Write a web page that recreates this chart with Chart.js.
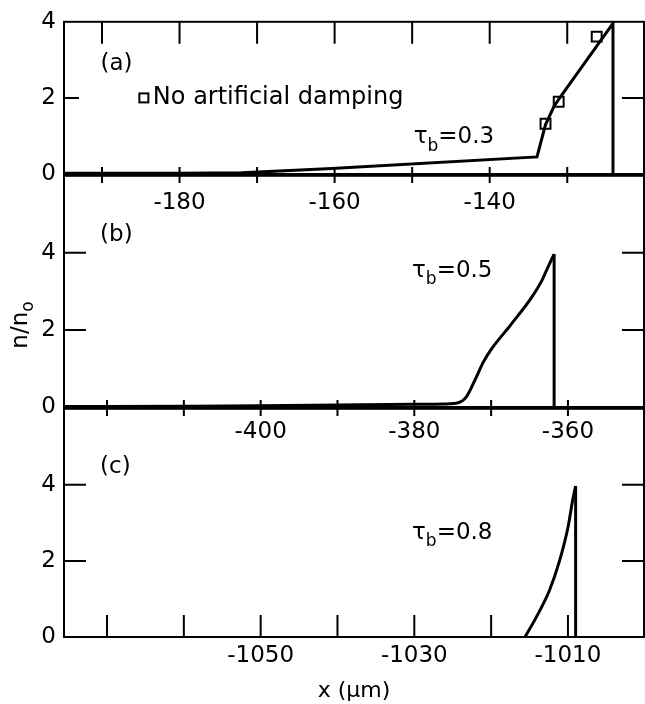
<!DOCTYPE html>
<html>
<head>
<meta charset="utf-8">
<script src="https://cdn.jsdelivr.net/npm/chart.js@4.4.1/dist/chart.umd.min.js"></script>
<style>
body{margin:0;background:#fff;}
canvas{position:absolute;left:0;}
</style>
</head>
<body>
<canvas id="chartA" width="645" height="215" style="top:0px"></canvas>
<canvas id="chartB" width="645" height="293" style="top:154px"></canvas>
<canvas id="chartC" width="645" height="317" style="top:387px"></canvas>
<script>
// (a) tau_b = 0.3
const xA = [-194.9, -180, -172, -161, -133.9, -132.8, -131.7, -130.9, -124.1, -124.1];
const nA = [0.02, 0.02, 0.03, 0.14, 0.45, 1.3, 1.78, 2.02, 3.96, 0];
const xSquares = [-132.8, -131.1, -126.2];
const nSquares = [1.32, 1.9, 3.61];
const tickXA = [-190, -180, -170, -160, -150, -140, -130];
const labelXA = [-180, -160, -140];

// (b) tau_b = 0.5
const xB = [-425.6, -410, -400, -390, -380, -376, -374.3, -373.2, -372.1, -371.0, -369.9, -367.5, -364.7, -363.4, -362.6, -361.8];
const nB = [0.01, 0.02, 0.03, 0.05, 0.07, 0.08, 0.11, 0.27, 0.70, 1.17, 1.52, 2.12, 2.85, 3.28, 3.63, 3.97];
const shockXB = [-361.8, -361.8];
const shockNB = [3.97, 0];
const tickXB = [-420, -410, -400, -390, -380, -370, -360];
const labelXB = [-400, -380, -360];

// (c) tau_b = 0.8
const xC = [-1015.6, -1014.1, -1012.4, -1011.1, -1010.0, -1009.4, -1009.0];
const nC = [0, 0.53, 1.23, 2.0, 2.88, 3.58, 3.97];
const shockXC = [-1009.0, -1009.0];
const shockNC = [3.97, 0];
const tickXC = [-1070, -1060, -1050, -1040, -1030, -1020, -1010];
const labelXC = [-1050, -1030, -1010];

const tickY = [0, 2, 4];

Chart.defaults.font.family = '"DejaVu Sans", sans-serif';
Chart.defaults.color = '#000';

function pts(xs, ys){
    return xs.map((v, i) => ({x: v, y: ys[i]}));
}

// box round each panel, with the ticks drawn inward
const frame = {
    id: 'frame',
    afterDatasetsDraw(chart, args, o){
        const {ctx, chartArea: a} = chart;
        const {x, y} = chart.scales;
        ctx.save();
        ctx.strokeStyle = '#000';
        ctx.lineWidth = 2;
        ctx.strokeRect(a.left, a.top, a.right - a.left, a.bottom - a.top);
        ctx.beginPath();
        x.ticks.forEach(t => {
            const px = x.getPixelForValue(t.value);
            if(o.top){
                ctx.moveTo(px, a.top);
                ctx.lineTo(px, a.top + o.top);
            }
            ctx.moveTo(px, a.bottom - o.up);
            ctx.lineTo(px, a.bottom + o.down);
        });
        y.ticks.forEach(t => {
            if(t.value <= y.min || t.value >= y.max) return;
            const py = y.getPixelForValue(t.value);
            ctx.moveTo(a.left, py);
            ctx.lineTo(a.left + o.left, py);
            ctx.moveTo(a.right, py);
            ctx.lineTo(a.right - o.right, py);
        });
        ctx.stroke();
        ctx.restore();
    }
};

// panel letters, tau labels, legend
const notes = {
    id: 'notes',
    afterDraw(chart, args, o){
        const {ctx} = chart;
        const {x, y} = chart.scales;
        ctx.save();
        ctx.fillStyle = '#000';
        ctx.strokeStyle = '#000';
        ctx.textBaseline = 'middle';
        (o.items || []).forEach(it => {
            let px, py;
            if(it.rot){
                ctx.save();
                ctx.translate(it.px, it.py);
                ctx.rotate(-Math.PI / 2);
                let w = 0;
                it.parts.forEach(p => {
                    ctx.font = p[1] + 'px "DejaVu Sans"';
                    w += ctx.measureText(p[0]).width;
                });
                px = -w / 2;
                it.parts.forEach(p => {
                    ctx.font = p[1] + 'px "DejaVu Sans"';
                    ctx.fillText(p[0], px, p[2] || 0);
                    px += ctx.measureText(p[0]).width;
                });
                ctx.restore();
                return;
            }
            px = x.getPixelForValue(it.x);
            py = y.getPixelForValue(it.y);
            if(it.box){
                ctx.lineWidth = 2;
                ctx.strokeRect(px - 4.5, py - 4.5, 9, 9);
                px += it.box;
            }
            it.parts.forEach(p => {
                ctx.font = p[1] + 'px "DejaVu Sans"';
                ctx.fillText(p[0], px, py + (p[2] || 0));
                px += ctx.measureText(p[0]).width;
            });
        });
        ctx.restore();
    }
};

function tau(v){
    return [['\u03c4', 23], ['b', 17, 9], ['=' + v, 23]];
}

function makeChart(id, cfg){
    const ctx = document.getElementById(id).getContext('2d');
    return new Chart(ctx, {
        type: 'scatter',
        data: {datasets: cfg.datasets},
        options: {
            responsive: false,
            animation: false,
            devicePixelRatio: 1,
            layout: {autoPadding: false, padding: {top: 20, right: 1, left: 0, bottom: 0}},
            plugins: {
                legend: {display: false},
                tooltip: {enabled: false},
                frame: cfg.frame,
                notes: {items: cfg.notes}
            },
            scales: {
                x: {
                    type: 'linear',
                    min: cfg.xMin,
                    max: cfg.xMax,
                    afterBuildTicks: s => { s.ticks = cfg.ticks.map(v => ({value: v})); },
                    afterFit: s => { s.height = cfg.xHeight; },
                    grid: {display: false, drawTicks: false},
                    border: {display: false},
                    title: cfg.title || {display: false},
                    ticks: {
                        autoSkip: false,
                        maxRotation: 0,
                        padding: cfg.labelPad,
                        font: {size: 23},
                        callback: v => cfg.labels.includes(v) ? String(v) : ''
                    }
                },
                y: {
                    min: 0,
                    max: cfg.yMax,
                    afterBuildTicks: s => { s.ticks = tickY.map(v => ({value: v})); },
                    afterFit: s => { s.width = 64; },
                    grid: {display: false, drawTicks: false},
                    border: {display: false},
                    ticks: {padding: 8, font: {size: 23}}
                }
            }
        },
        plugins: [frame, notes]
    });
}

const line = {showLine: true, borderColor: '#000', borderWidth: 3, pointRadius: 0, tension: 0};

makeChart('chartA', {
    datasets: [
        Object.assign({data: pts(xA, nA)}, line),
        {
            data: pts(xSquares, nSquares),
            pointStyle: 'rect',
            pointRadius: 7,
            borderWidth: 2,
            borderColor: '#000',
            backgroundColor: '#fff'
        }
    ],
    xMin: -194.9, xMax: -120.1, yMax: 4,
    ticks: tickXA, labels: labelXA,
    xHeight: 41, labelPad: 15,
    frame: {top: 22, up: 7, down: 9, left: 15, right: 22},
    notes: [
        {x: -190.2, y: 2.88, parts: [['(a)', 23]]},
        {x: -184.6, y: 2.0, box: 9, parts: [['No artificial damping', 24]]},
        {x: -149.8, y: 0.96, parts: tau('0.3')}
    ]
});

makeChart('chartB', {
    datasets: [
        Object.assign({data: pts(xB, nB), cubicInterpolationMode: 'monotone'}, line),
        Object.assign({data: pts(shockXB, shockNB)}, line)
    ],
    xMin: -425.6, xMax: -350.1, yMax: 6,
    ticks: tickXB, labels: labelXB,
    xHeight: 40, labelPad: 11,
    frame: {top: 0, up: 7, down: 9, left: 22, right: 22},
    notes: [
        {x: -420.9, y: 4.46, parts: [['(b)', 23]]},
        {x: -380.3, y: 3.54, parts: tau('0.5')},
        {rot: true, px: 21, py: 171, parts: [['n/n', 23], ['o', 17, 8]]}
    ]
});

makeChart('chartC', {
    datasets: [
        Object.assign({data: pts(xC, nC), cubicInterpolationMode: 'monotone'}, line),
        Object.assign({data: pts(shockXC, shockNC)}, line)
    ],
    xMin: -1075.6, xMax: -1000.1, yMax: 6,
    ticks: tickXC, labels: labelXC,
    xHeight: 67, labelPad: 5,
    title: {display: true, text: 'x (\u03bcm)', font: {size: 22}, padding: {top: 0, bottom: 0}},
    frame: {top: 0, up: 22, down: 0, left: 22, right: 22},
    notes: [
        {x: -1070.9, y: 4.46, parts: [['(c)', 23]]},
        {x: -1030.3, y: 2.74, parts: tau('0.8')}
    ]
});
</script>
</body>
</html>
